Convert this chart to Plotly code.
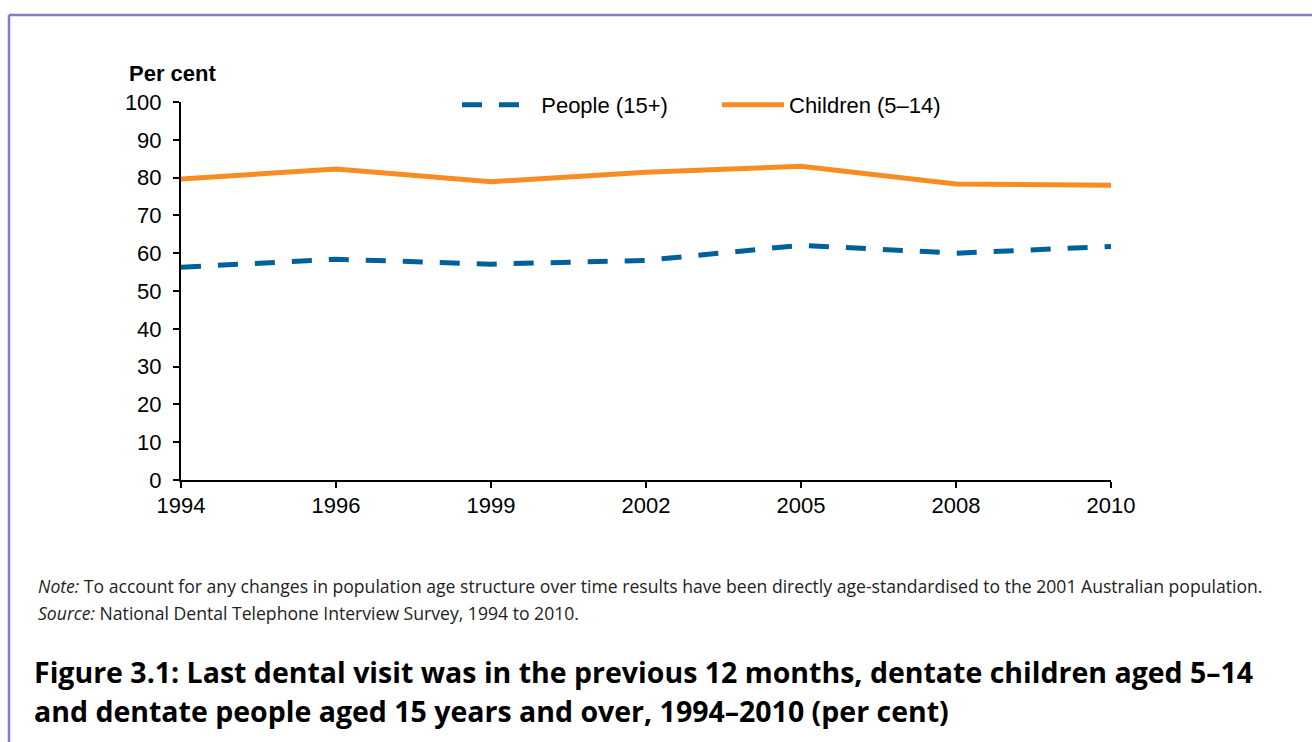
import plotly.graph_objects as go

years = ["1994", "1996", "1999", "2002", "2005", "2008", "2010"]
people_15_plus = [56.3, 58.4, 57.1, 58.1, 62.1, 60.0, 61.8]
children_5_14 = [79.6, 82.3, 78.9, 81.4, 83.0, 78.3, 78.0]
y_ticks = [0, 10, 20, 30, 40, 50, 60, 70, 80, 90, 100]

BLUE = "#00609A"
ORANGE = "#F78D22"

W, H = 1312, 742
PLOT_L, PLOT_R, PLOT_T, PLOT_B = 181, 1111, 102, 480  # page px
L, T = PLOT_L, PLOT_T
R, B = W - PLOT_R, H - PLOT_B
PW, PH = PLOT_R - PLOT_L, PLOT_B - PLOT_T


def px(x):
    return (x - PLOT_L) / PW


def py(y):
    return (PLOT_B - y) / PH


fig = go.Figure()
fig.add_trace(go.Scatter(
    x=years, y=people_15_plus, name="\u00a0\u00a0People (15+)", mode="lines",
    line=dict(color=BLUE, width=5, dash="20px,17px"),
))
fig.add_trace(go.Scatter(
    x=years, y=children_5_14, name="Children (5\u201314)", mode="lines",
    line=dict(color=ORANGE, width=5),
))

axis_font = dict(family="Liberation Sans, Arial, sans-serif", size=22, color="#000000")

fig.update_layout(
    width=W, height=H,
    margin=dict(l=L, r=R, t=T, b=B, autoexpand=False),
    paper_bgcolor="white", plot_bgcolor="white",
    font=axis_font,
    showlegend=True,
    legend=dict(
        orientation="h", x=px(457), y=py(105), xanchor="left", yanchor="middle",
        font=axis_font, bgcolor="rgba(0,0,0,0)", itemwidth=62,
        traceorder="normal", entrywidth=183, entrywidthmode="pixels",
    ),
    xaxis=dict(
        type="category", range=[0, 6], showgrid=False, zeroline=False,
        showline=True, linecolor="#000000", linewidth=2,
        ticks="outside", ticklen=6, tickwidth=2, tickcolor="#000000",
        tickfont=axis_font, ticklabelstandoff=-1,
    ),
    yaxis=dict(
        range=[0, 100], tickvals=y_ticks, showgrid=False, zeroline=False,
        showline=True, linecolor="#000000", linewidth=2,
        ticks="outside", ticklen=6, tickwidth=2, tickcolor="#000000",
        tickfont=axis_font, ticklabelstandoff=7,
    ),
)

border = "#7F7FC8"
fig.add_shape(type="line", xref="paper", yref="paper",
              x0=px(9), x1=px(1320), y0=py(15), y1=py(15),
              line=dict(color=border, width=2.5))
fig.add_shape(type="line", xref="paper", yref="paper",
              x0=px(9), x1=px(9), y0=py(15), y1=py(750),
              line=dict(color=border, width=2.5))

fig.add_annotation(text="<b>Per cent</b>", xref="paper", yref="paper",
                   x=px(127), y=py(73), xanchor="left", yanchor="middle",
                   showarrow=False, font=dict(family="Liberation Sans, Arial, sans-serif", size=22, color="#000"))

note_font = dict(family="Open Sans, sans-serif", size=17.6, color="#222222")
fig.add_annotation(
    text="<i>Note:</i> To account for any changes in population age structure over time results have been directly age-standardised to the 2001 Australian population.",
    xref="paper", yref="paper", x=px(36), y=py(586), xanchor="left", yanchor="middle",
    showarrow=False, font=note_font)
fig.add_annotation(
    text="<i>Source:</i> National Dental Telephone Interview Survey, 1994 to 2010.",
    xref="paper", yref="paper", x=px(36), y=py(613), xanchor="left", yanchor="middle",
    showarrow=False, font=note_font)

title_font = dict(family="Open Sans, sans-serif", size=28.5, color="#000000")
fig.add_annotation(
    text="<b>Figure 3.1: Last dental visit was in the previous 12 months, dentate children aged 5\u201314</b>",
    xref="paper", yref="paper", x=px(32), y=py(672), xanchor="left", yanchor="middle",
    showarrow=False, font=title_font)
fig.add_annotation(
    text="<b>and dentate people aged 15 years and over, 1994\u20132010 (per cent)</b>",
    xref="paper", yref="paper", x=px(32), y=py(711), xanchor="left", yanchor="middle",
    showarrow=False, font=title_font)

fig.write_html(
    "out.html",
    config={"displayModeBar": False},
    post_script="document.body.style.margin='0';document.body.style.overflow='hidden';",
)
